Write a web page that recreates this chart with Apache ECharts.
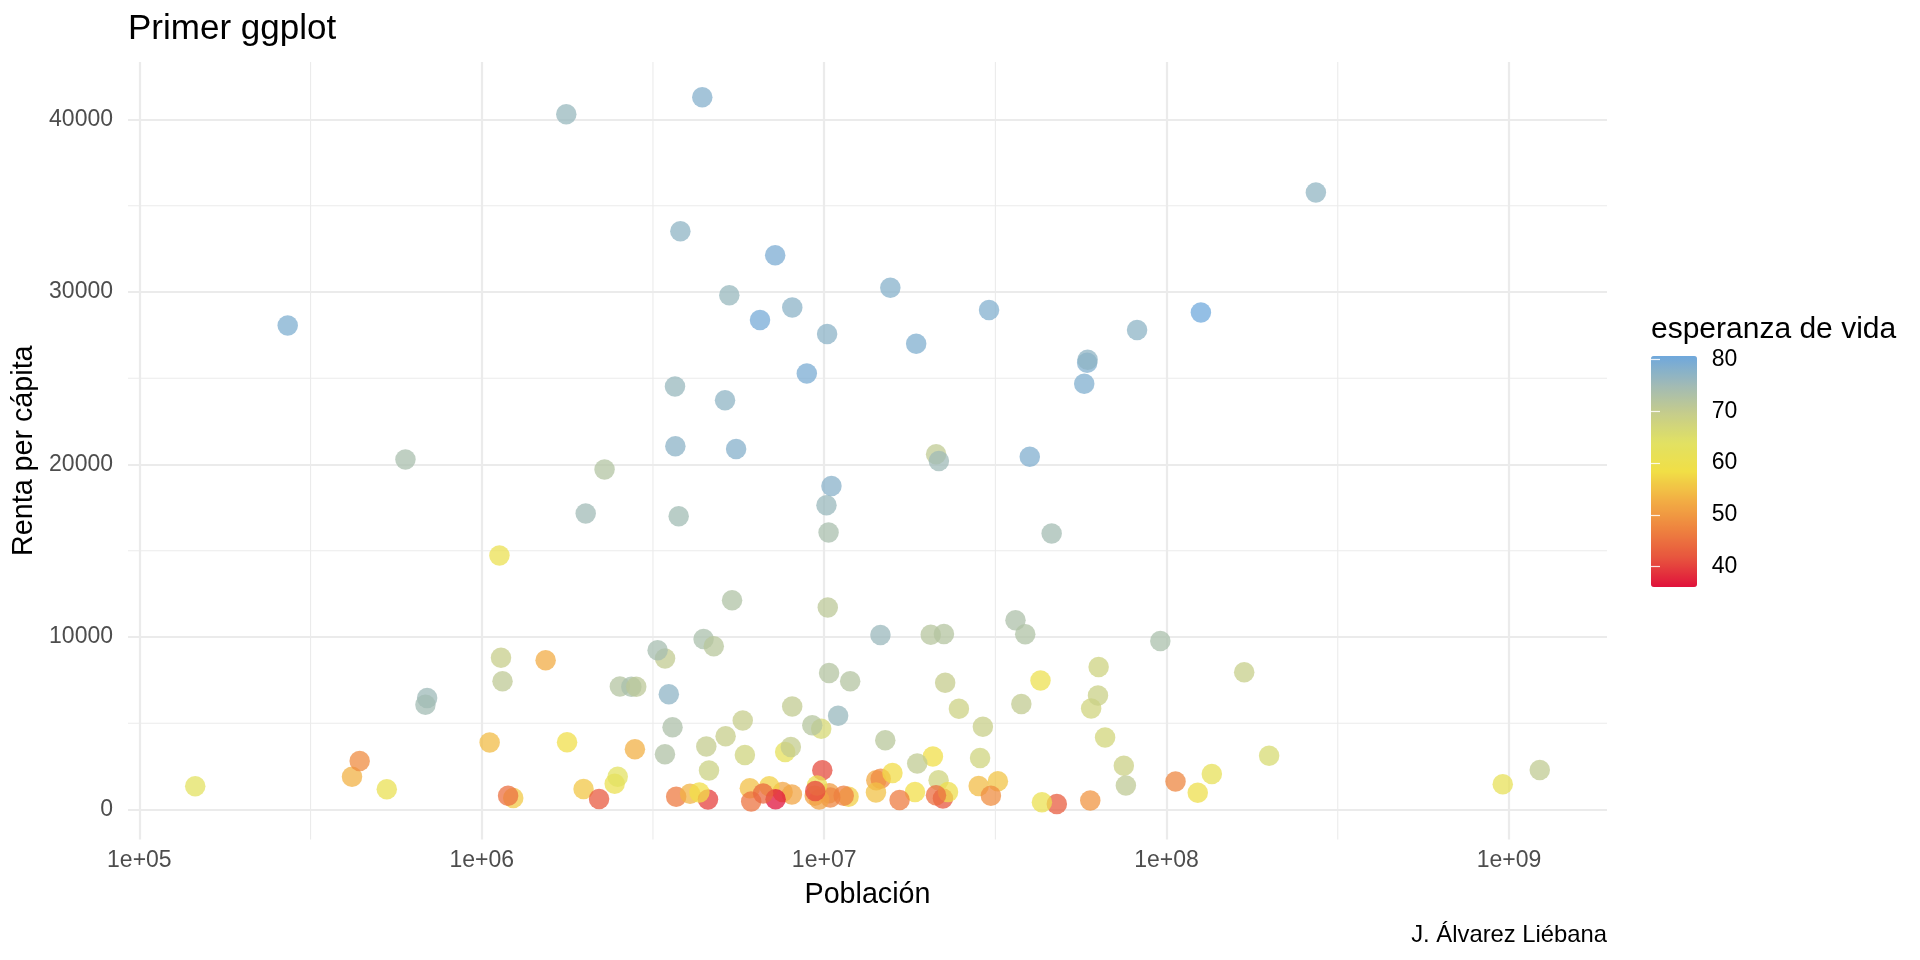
<!DOCTYPE html>
<html>
<head>
<meta charset="utf-8">
<script src="https://cdn.jsdelivr.net/npm/echarts@6/dist/echarts.min.js"></script>
<style>
html,body{margin:0;padding:0;background:#ffffff;}
#chart{width:1920px;height:960px;}
</style>
</head>
<body>
<div id="chart"></div>
<script>
// ---- data (gapminder-style, year 1997) ----
const countries = ["Afghanistan","Albania","Algeria","Angola","Argentina","Australia","Austria","Bahrain","Bangladesh","Belgium","Benin","Bolivia","Bosnia and Herzegovina","Botswana","Brazil","Bulgaria","Burkina Faso","Burundi","Cambodia","Cameroon","Canada","Central African Republic","Chad","Chile","China","Colombia","Comoros","Congo, Dem. Rep.","Congo, Rep.","Costa Rica","Cote d'Ivoire","Croatia","Cuba","Czech Republic","Denmark","Djibouti","Dominican Republic","Ecuador","Egypt","El Salvador","Equatorial Guinea","Eritrea","Ethiopia","Finland","France","Gabon","Gambia","Germany","Ghana","Greece","Guatemala","Guinea","Guinea-Bissau","Haiti","Honduras","Hong Kong, China","Hungary","Iceland","India","Indonesia","Iran","Iraq","Ireland","Israel","Italy","Jamaica","Japan","Jordan","Kenya","Korea, Dem. Rep.","Korea, Rep.","Kuwait","Lebanon","Lesotho","Liberia","Libya","Madagascar","Malawi","Malaysia","Mali","Mauritania","Mauritius","Mexico","Mongolia","Montenegro","Morocco","Mozambique","Myanmar","Namibia","Nepal","Netherlands","New Zealand","Nicaragua","Niger","Nigeria","Norway","Oman","Pakistan","Panama","Paraguay","Peru","Philippines","Poland","Portugal","Puerto Rico","Reunion","Romania","Rwanda","Sao Tome and Principe","Saudi Arabia","Senegal","Serbia","Sierra Leone","Singapore","Slovak Republic","Slovenia","Somalia","South Africa","Spain","Sri Lanka","Sudan","Swaziland","Sweden","Switzerland","Syria","Taiwan","Tanzania","Thailand","Togo","Trinidad and Tobago","Tunisia","Turkey","Uganda","United Kingdom","United States","Uruguay","Venezuela","Vietnam","West Bank and Gaza","Yemen, Rep.","Zambia","Zimbabwe"];

const population = [22227415,3428038,29072015,9875024,36203463,18565243,8069876,598561,123315288,10199787,6066080,7693188,3607000,1536536,168546719,8066057,10352843,6121610,11782962,14195809,30305843,3696513,7562011,14599929,1230075000,37657830,527982,47798986,2800947,3518107,14625967,4444595,10983007,10300707,5283663,417908,7992357,11911819,66134291,5783439,439971,4058319,59861301,5134406,58623428,1126189,1235767,82011073,18418288,10502372,9803875,8048834,1193708,6913545,5867957,6495918,10244684,271192,959000000,199278000,63327987,20775703,3667233,5531387,57479469,2531311,125956499,4526235,28263827,21585105,46173816,1765345,3430388,1982823,2200725,4759670,14165114,10419991,20476091,9384984,2444741,1149818,95895146,2494803,692651,28529501,16603334,43247867,1774766,23001113,15604464,3676187,4609572,9666252,106207839,4405672,2283635,135564834,2734531,5154123,24748122,75012988,38654957,10156415,3759430,684810,22562458,7212583,145608,21229759,9535314,10336594,4578212,3802309,5383010,2011612,6633514,42835005,39855442,18698655,32160729,1054486,8897619,7193761,15081016,21628605,30686889,60216677,4320890,1138101,9231669,63047647,21210254,58808266,272911760,3262838,22374398,76048996,2826046,15826497,9417789,11404948];

const gdpPercap = [635.34,3193.05,4797.30,2277.14,10967.28,26997.94,29095.92,20292.02,972.77,27561.20,1232.98,3326.14,4766.36,8647.14,7957.98,5970.39,946.29,463.12,734.29,1694.34,28954.93,740.51,1004.96,10118.05,2289.23,6117.36,1173.62,312.19,3484.16,6677.05,1786.27,9875.60,5431.99,16048.51,29804.35,1895.02,3614.10,7429.46,4173.18,5154.83,2814.48,913.47,515.89,23723.95,25889.78,14722.84,665.62,27788.88,1005.25,18747.70,4684.31,869.45,796.66,1341.73,3160.45,28377.63,11712.78,28061.10,1458.82,3119.34,8263.59,3076.24,24521.95,20896.61,24675.02,7121.92,28816.58,3645.38,1360.49,1690.76,15993.53,40300.62,8754.96,1186.15,609.17,9467.45,986.30,692.28,10132.91,790.26,1483.14,7425.71,9767.30,1902.25,6465.61,2982.10,553.33,415.00,3899.52,1010.89,30246.13,21050.41,2253.02,580.31,1624.94,41283.16,19702.06,2049.35,7113.69,4247.40,5838.35,2536.53,10159.58,17641.03,16999.43,6071.94,7346.55,589.94,1339.08,20586.69,1385.90,7914.32,574.65,33519.48,12126.23,17161.11,930.60,7479.19,20445.30,2664.48,1632.21,3876.77,25266.59,32135.32,4014.24,20206.82,789.19,5852.63,982.29,8792.57,4876.80,6601.43,816.56,26074.53,35767.43,9230.24,10165.50,1385.90,7110.67,2117.48,1071.35,792.45];

const lifeExp = [41.763,72.95,69.152,40.963,73.275,78.83,77.51,73.925,59.412,77.53,54.777,62.05,73.244,52.556,69.388,70.32,50.324,45.326,56.534,52.199,78.61,46.066,51.573,75.816,70.426,70.313,60.66,42.587,52.962,77.26,47.991,73.68,76.151,74.01,76.11,53.157,69.957,72.312,67.217,69.535,48.245,53.378,49.402,77.13,78.64,60.461,55.861,77.34,58.556,77.869,66.322,51.455,44.873,56.671,67.659,80.0,71.04,78.95,61.765,66.041,68.042,58.811,76.122,78.269,78.82,72.262,80.69,69.772,54.407,67.727,74.647,76.156,70.265,55.558,42.221,71.555,54.978,47.495,71.938,51.082,60.43,70.736,73.67,63.625,75.445,67.66,46.344,60.328,58.909,59.426,78.03,77.55,68.426,51.313,47.464,78.32,72.499,61.818,73.738,69.4,68.386,68.564,72.75,75.97,74.917,74.772,69.72,36.087,63.306,70.533,60.187,72.232,39.897,77.158,72.8,75.13,43.795,60.236,78.77,70.457,55.373,54.289,79.39,79.37,71.527,75.25,48.466,67.521,58.39,69.465,71.973,68.835,44.578,77.218,76.81,74.223,72.146,70.672,71.096,58.02,40.238,46.809];

// minor breaks (between the major decade / 10000 breaks)
const xMinorBreaks = [316228, 3162278, 31622777, 316227766];
const yMinorBreaks = [5000, 15000, 25000, 35000];
// legend tick labels
const legendBreaks = [40, 50, 60, 70, 80];

// ---- scales (ggplot-like 5% expansion) ----
const lpMin = Math.log10(Math.min(...population));
const lpMax = Math.log10(Math.max(...population));
const xPad = 0.05 * (lpMax - lpMin);
const xMin = Math.pow(10, lpMin - xPad);
const xMax = Math.pow(10, lpMax + xPad);
const gMin = Math.min(...gdpPercap), gMax = Math.max(...gdpPercap);
const yPad = 0.05 * (gMax - gMin);
const yMin = gMin - yPad, yMax = gMax + yPad;
const leMin = Math.min(...lifeExp), leMax = Math.max(...lifeExp);

const FONT = '"Liberation Sans", Arial, Helvetica, sans-serif';
const GRID = '#EBEBEB';

const rows = countries.map((c, i) => [population[i], gdpPercap[i], lifeExp[i], c]);

const chart = echarts.init(document.getElementById('chart'), null, {renderer: 'canvas'});

const option = {
  animation: false,
  backgroundColor: '#ffffff',
  textStyle: {fontFamily: FONT},
  title: [
    {text: 'Primer ggplot', left: 128, top: 12, padding: 0,
     textStyle: {fontSize: 35, fontWeight: 'normal', color: '#000000', fontFamily: FONT}},
    {text: 'esperanza de vida', left: 1651, top: 315, padding: 0,
     textStyle: {fontSize: 30, fontWeight: 'normal', color: '#000000', fontFamily: FONT}},
    {text: 'J. Álvarez Liébana', right: 313, top: 923, padding: 0,
     textStyle: {fontSize: 23.8, fontWeight: 'normal', color: '#000000', fontFamily: FONT}}
  ],
  grid: [
    {left: 128, top: 62, width: 1479, height: 777.4},
    {left: 1651, top: 356, width: 46, height: 231}
  ],
  xAxis: [
    {
      type: 'log', logBase: 10, gridIndex: 0, min: xMin, max: xMax,
      axisLine: {show: false}, axisTick: {show: false},
      axisLabel: {
        showMinLabel: false, showMaxLabel: false, margin: 10,
        fontSize: 23, color: '#4D4D4D', fontFamily: FONT,
        formatter: v => { const e = Math.round(Math.log10(v)); return '1e+' + (e < 10 ? '0' + e : e); }
      },
      splitLine: {show: true, showMinLine: false, showMaxLine: false, lineStyle: {color: GRID, width: 2.2}},
      name: 'Población', nameLocation: 'middle', nameGap: 41,
      nameTextStyle: {fontSize: 28.7, color: '#000000', fontFamily: FONT}
    },
    {type: 'value', gridIndex: 1, min: 0, max: 1, show: false}
  ],
  yAxis: [
    {
      type: 'value', gridIndex: 0, min: yMin, max: yMax,
      axisLine: {show: false}, axisTick: {show: false},
      axisLabel: {
        showMinLabel: false, showMaxLabel: false, margin: 15,
        fontSize: 23, color: '#4D4D4D', fontFamily: FONT,
        padding: [2, 0, 0, 0],
        formatter: v => String(Math.round(v))
      },
      splitLine: {show: true, showMinLine: false, showMaxLine: false, lineStyle: {color: GRID, width: 2.2}},
      name: 'Renta per cápita', nameLocation: 'middle', nameGap: 86, nameRotate: 90,
      nameTextStyle: {fontSize: 28.7, color: '#000000', fontFamily: FONT}
    },
    {
      type: 'value', gridIndex: 1, min: leMin, max: leMax, position: 'right', z: 10,
      axisLine: {show: false}, splitLine: {show: false},
      axisTick: {show: true, inside: true, length: 9, customValues: legendBreaks,
                 lineStyle: {color: 'rgba(255,255,255,0.85)', width: 1.2}},
      axisLabel: {show: true, customValues: legendBreaks, margin: 14.7,
                  align: 'left', verticalAlign: 'middle',
                  padding: [5, 0, 0, 0],
                  fontSize: 23, color: '#000000', fontFamily: FONT}
    },
    {
      type: 'value', gridIndex: 1, min: leMin, max: leMax, position: 'left', z: 10,
      axisLine: {show: false}, splitLine: {show: false},
      axisTick: {show: true, inside: true, length: 9, customValues: legendBreaks,
                 lineStyle: {color: 'rgba(255,255,255,0.85)', width: 1.2}},
      axisLabel: {show: false}
    }
  ],
  visualMap: {
    type: 'continuous', seriesIndex: 0, dimension: 2,
    min: leMin, max: leMax,
    left: 1651, top: 356, itemWidth: 46, itemHeight: 231, padding: 0,
    calculable: false, hoverLink: false, z: 4,
    inRange: {color: ['#E0123B', '#E7543E', '#EE833F', '#F2AE44', '#F1DF46', '#E1E163', '#C6CD8B', '#A0BAB6', '#6FA8DC']}
  },
  series: [
    {
      type: 'scatter', xAxisIndex: 0, yAxisIndex: 0, z: 3,
      data: rows, symbolSize: 20.5,
      itemStyle: {opacity: 0.74},
      emphasis: {disabled: true}
    },
    {
      type: 'custom', xAxisIndex: 0, yAxisIndex: 0, z: 1, silent: true,
      data: xMinorBreaks.map(v => [v, 0]),
      renderItem: (params, api) => {
        const p = api.coord([api.value(0), api.value(1)]);
        const cs = params.coordSys;
        return {type: 'line', shape: {x1: p[0], y1: cs.y, x2: p[0], y2: cs.y + cs.height},
                style: {stroke: GRID, lineWidth: 1.1}};
      }
    },
    {
      type: 'custom', xAxisIndex: 0, yAxisIndex: 0, z: 1, silent: true,
      data: yMinorBreaks.map(v => [1000000, v]),
      renderItem: (params, api) => {
        const p = api.coord([api.value(0), api.value(1)]);
        const cs = params.coordSys;
        return {type: 'line', shape: {x1: cs.x, y1: p[1], x2: cs.x + cs.width, y2: p[1]},
                style: {stroke: GRID, lineWidth: 1.1}};
      }
    }
  ]
};
chart.setOption(option);
</script>
</body>
</html>
